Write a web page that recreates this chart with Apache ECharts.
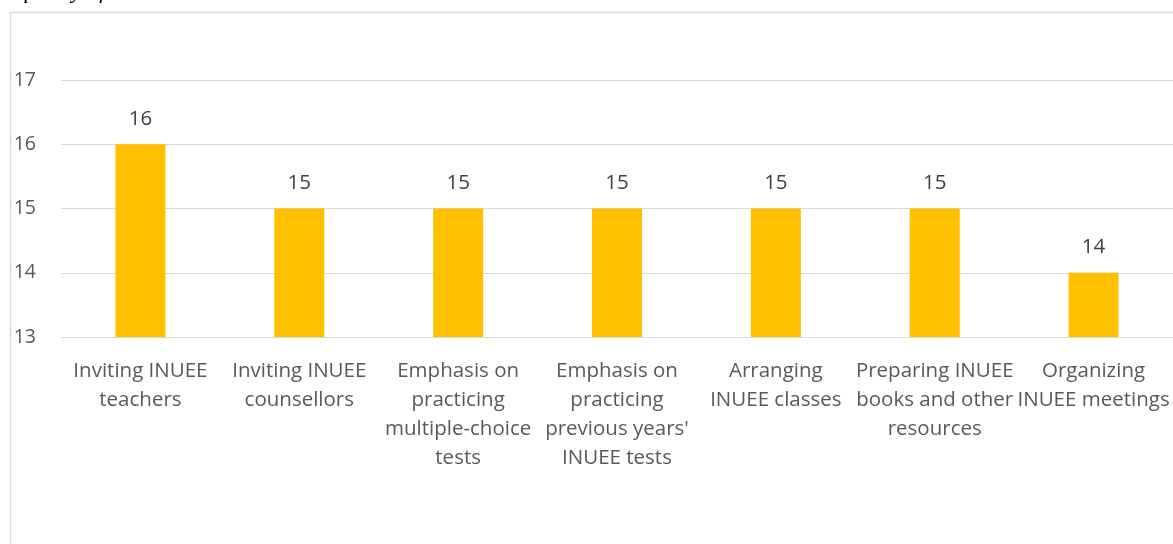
<!DOCTYPE html>
<html>
<head>
<meta charset="utf-8">
<script src="https://cdn.jsdelivr.net/npm/echarts@6/dist/echarts.min.js"></script>
<style>
html,body{margin:0;padding:0;background:#fff;}
#c{width:1173px;height:544px;}
</style>
</head>
<body>
<div id="c"></div>
<script>
const categories = [
  "Inviting INUEE\nteachers",
  "Inviting INUEE\ncounsellors",
  "Emphasis on\npracticing\nmultiple-choice\ntests",
  "Emphasis on\npracticing\nprevious years'\nINUEE tests",
  "Arranging\nINUEE classes",
  "Preparing INUEE\nbooks and other\nresources",
  "Organizing\nINUEE meetings"
];
const values = [16, 15, 15, 15, 15, 15, 14];
const yTicks = [13, 14, 15, 16, 17];
const titleText = "quality of INUEE on selected activities";

const chart = echarts.init(document.getElementById('c'));
const font = "'Open Sans', sans-serif";
chart.setOption({
  animation: false,
  backgroundColor: '#fff',
  graphic: [
    {type: 'rect', shape: {x: 10.5, y: 12.5, width: 1200, height: 600}, style: {fill: 'none', stroke: '#d9d9d9', lineWidth: 1.5}, z: 0},
    {type: 'text', left: 18, top: -20, style: {text: titleText, font: "italic 23px 'Liberation Serif', serif", fill: '#000'}}
  ],
  grid: {left: 61, right: 0, top: 80, height: 257, containLabel: false},
  xAxis: {
    type: 'category',
    data: categories,
    axisLine: {lineStyle: {color: '#d9d9d9', width: 1}},
    axisTick: {show: false},
    axisLabel: {interval: 0, color: '#595959', fontSize: 20.5, fontFamily: font, lineHeight: 29, margin: 20}
  },
  yAxis: {
    type: 'value',
    min: yTicks[0], max: yTicks[yTicks.length - 1], interval: 1,
    axisLine: {show: false},
    axisTick: {show: false},
    splitLine: {lineStyle: {color: '#d9d9d9', width: 1}},
    axisLabel: {color: '#595959', fontSize: 19.5, fontFamily: font, margin: 25, align: 'right'}
  },
  series: [{
    type: 'bar',
    data: values,
    barWidth: 50,
    itemStyle: {color: '#ffc000'},
    label: {show: true, position: 'top', distance: 15, color: '#404040', fontSize: 20.5, fontFamily: font}
  }]
});
</script>
</body>
</html>
